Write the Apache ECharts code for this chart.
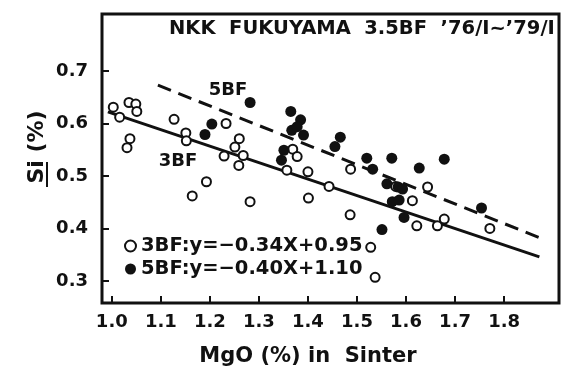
<!DOCTYPE html>
<html><head><meta charset="utf-8">
<script src="https://cdn.jsdelivr.net/npm/echarts@6/dist/echarts.min.js"></script>
<style>html,body{margin:0;padding:0;background:#fff}#c{width:562px;height:380px}</style>
</head><body><div id="c"></div>
<script>
// ---- data ----
const xTicks = [1.0, 1.1, 1.2, 1.3, 1.4, 1.5, 1.6, 1.7, 1.8];
const yTicks = [0.3, 0.4, 0.5, 0.6, 0.7];
const bf3Points = [
  [1.003,0.631],[1.016,0.612],[1.035,0.640],[1.049,0.637],[1.051,0.623],
  [1.037,0.571],[1.031,0.554],[1.127,0.608],[1.151,0.582],[1.152,0.567],
  [1.233,0.600],[1.229,0.538],[1.193,0.489],[1.164,0.462],[1.260,0.571],
  [1.251,0.555],[1.268,0.539],[1.259,0.520],[1.282,0.451],[1.369,0.551],
  [1.378,0.537],[1.357,0.511],[1.400,0.508],[1.443,0.480],[1.401,0.458],
  [1.487,0.513],[1.486,0.426],[1.579,0.480],[1.644,0.479],[1.613,0.453],
  [1.622,0.405],[1.664,0.405],[1.678,0.418],[1.771,0.400],[1.528,0.364],
  [1.537,0.307]
];
const bf5Points = [
  [1.190,0.579],[1.204,0.599],[1.282,0.640],[1.365,0.623],[1.385,0.607],
  [1.367,0.587],[1.391,0.578],[1.378,0.594],[1.351,0.549],[1.346,0.530],
  [1.466,0.574],[1.455,0.556],[1.520,0.534],[1.571,0.534],[1.678,0.532],
  [1.532,0.513],[1.627,0.515],[1.561,0.485],[1.584,0.479],[1.593,0.475],
  [1.572,0.451],[1.586,0.454],[1.596,0.421],[1.551,0.398],[1.754,0.439]
];
const fit3Line = [[0.992,0.622],[1.872,0.346]];
const fit5Line = [[1.094,0.673],[1.884,0.378]];
const seriesNames = ['3BF', '5BF'];
const legendTexts = ['3BF:y=\u22120.34X+0.95', '5BF:y=\u22120.40X+1.10'];
const titleText = 'NKK  FUKUYAMA  3.5BF  \u201976/I~\u201979/I';
const xName = 'MgO (%) in  Sinter';
const yName = 'Si (%)';

const FONT = 'DejaVu Sans';
const chart = echarts.init(document.getElementById('c'), null, {renderer: 'canvas'});
chart.setOption({
  animation: false,
  backgroundColor: '#fff',
  textStyle: {fontFamily: FONT, color: '#111'},
  grid: {left: 102, right: 3, top: 14, bottom: 77, show: true, borderColor: '#111', borderWidth: 3, backgroundColor: 'transparent'},
  xAxis: {
    type: 'value', min: 0.98, max: 1.912,
    axisLine: {show: false},
    splitLine: {show: false},
    axisTick: {show: true, inside: true, length: 7, lineStyle: {color: '#111', width: 2}, customValues: xTicks},
    axisLabel: {customValues: xTicks, formatter: v => v.toFixed(1), fontFamily: FONT, fontSize: 18, fontWeight: 'bold', color: '#111', margin: 10}
  },
  yAxis: {
    type: 'value', min: 0.258, max: 0.8086,
    axisLine: {show: false},
    splitLine: {show: false},
    axisTick: {show: true, inside: true, length: 7, lineStyle: {color: '#111', width: 2}, customValues: yTicks},
    axisLabel: {customValues: yTicks, formatter: v => v.toFixed(1), fontFamily: FONT, fontSize: 18, fontWeight: 'bold', color: '#111', margin: 14}
  },
  legend: {
    data: seriesNames, orient: 'vertical', left: 119, top: 231, itemGap: 3,
    itemWidth: 11, itemHeight: 11,
    formatter: n => legendTexts[seriesNames.indexOf(n)],
    textStyle: {fontFamily: FONT, fontSize: 19.5, fontWeight: 'bold', color: '#111'},
    selectedMode: false
  },
  graphic: [
    {type: 'text', left: 169, top: 19, style: {text: titleText, font: 'bold 19.5px "DejaVu Sans"', fill: '#111'}},
    {type: 'text', x: 228, y: 90, style: {text: '5BF', font: 'bold 18px "DejaVu Sans"', fill: '#111', align: 'center', verticalAlign: 'middle'}},
    {type: 'text', x: 178, y: 161, style: {text: '3BF', font: 'bold 18px "DejaVu Sans"', fill: '#111', align: 'center', verticalAlign: 'middle'}},
    {type: 'text', x: 308, y: 357, style: {text: xName, font: 'bold 21px "DejaVu Sans"', fill: '#111', align: 'center', verticalAlign: 'middle'}},
    {type: 'text', x: 37, y: 147, rotation: Math.PI / 2, style: {text: yName, font: 'bold 22px "DejaVu Sans"', fill: '#111', align: 'center', verticalAlign: 'middle'}},
    {type: 'line', shape: {x1: 47, y1: 162, x2: 47, y2: 187}, style: {stroke: '#111', lineWidth: 2}}
  ],
  series: [
    {name: 'fit3', type: 'line', data: fit3Line, symbol: 'none', lineStyle: {color: '#111', width: 3}, z: 1, silent: true},
    {name: 'fit5', type: 'line', data: fit5Line, symbol: 'none', lineStyle: {color: '#111', width: 3, type: [14, 8]}, z: 1, silent: true},
    {name: '3BF', type: 'scatter', data: bf3Points, symbol: 'circle', symbolSize: 9, itemStyle: {color: '#fff', borderColor: '#111', borderWidth: 2, opacity: 1}, z: 3},
    {name: '5BF', type: 'scatter', data: bf5Points, symbol: 'circle', symbolSize: 11, itemStyle: {color: '#111', opacity: 1}, z: 4}
  ]
});
</script></body></html>
